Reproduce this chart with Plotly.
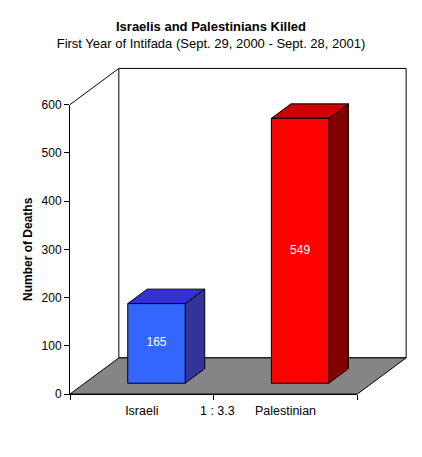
import plotly.graph_objects as go

categories = ["Israeli", "Palestinian"]
deaths = [165, 549]
front_colors = ["#3366FF", "#FF0000"]
top_colors = ["#3333CC", "#CC0000"]
side_colors = ["#333399", "#800000"]
y_ticks = [0, 100, 200, 300, 400, 500, 600]

# fake 3D box, in axis units
DEPTH_X = 0.34      # depth along the category axis
DEPTH_Y = 75        # depth along the value axis
Y_MAX = 600
BAR_HALF = 0.2
BAR_FRONT = 0.3     # bars sit between 30% and 70% of the depth
BAR_BACK = 0.7
PAD_X = 0.02
PAD_Y = (4, 5)

# the page body has an 8px margin, so the figure is made that much smaller
W, H, BODY = 422, 457, 8

n = len(categories)


def poly(xs, ys, fill, line_color="black"):
    return go.Scatter(
        x=xs + xs[:1], y=ys + ys[:1], mode="lines", fill="toself",
        fillcolor=fill, line=dict(color=line_color, width=1),
        hoverinfo="skip", showlegend=False,
    )


fig = go.Figure()

# back wall
fig.add_trace(poly([DEPTH_X, n + DEPTH_X, n + DEPTH_X, DEPTH_X],
                   [DEPTH_Y, DEPTH_Y, Y_MAX + DEPTH_Y, Y_MAX + DEPTH_Y], "white"))
# left wall top edge
fig.add_trace(go.Scatter(x=[0, DEPTH_X], y=[Y_MAX, Y_MAX + DEPTH_Y], mode="lines",
                         line=dict(color="black", width=1), hoverinfo="skip", showlegend=False))
# floor
fig.add_trace(poly([0, n, n + DEPTH_X, DEPTH_X], [0, 0, DEPTH_Y, DEPTH_Y], "#858585"))

ox, oy = BAR_FRONT * DEPTH_X, BAR_FRONT * DEPTH_Y
bx, by = (BAR_BACK - BAR_FRONT) * DEPTH_X, (BAR_BACK - BAR_FRONT) * DEPTH_Y
label_x, label_y = [], []
for i, v in enumerate(deaths):
    x0 = i + 0.5 - BAR_HALF + ox
    x1 = i + 0.5 + BAR_HALF + ox
    fig.add_trace(poly([x1, x1 + bx, x1 + bx, x1], [oy, oy + by, v + oy + by, v + oy], side_colors[i]))
    fig.add_trace(poly([x0, x1, x1 + bx, x0 + bx], [v + oy, v + oy, v + oy + by, v + oy + by], top_colors[i]))
    fig.add_trace(poly([x0, x1, x1, x0], [oy, oy, v + oy, v + oy], front_colors[i]))
    label_x.append(i + 0.5 + ox)
    label_y.append(oy + v / 2)

fig.add_trace(go.Scatter(x=label_x, y=label_y, mode="text", text=[str(v) for v in deaths],
                         textfont=dict(color="white", size=12), cliponaxis=False,
                         hoverinfo="skip", showlegend=False))

y_lo, y_hi = -PAD_Y[0], Y_MAX + DEPTH_Y + PAD_Y[1]
x_hi = n + DEPTH_X + PAD_X

fig.add_annotation(x=1, y=0, xref="x2", yref="y2", text=f"1 : {deaths[1] / deaths[0]:.1f}",
                   showarrow=False, yanchor="middle", xshift=4, yshift=-17,
                   font=dict(size=12.5, color="black"))

fig.update_layout(
    width=W - BODY, height=H - BODY,
    margin=dict(l=70 - BODY, r=13, t=66 - BODY, b=61),
    paper_bgcolor="white", plot_bgcolor="rgba(0,0,0,0)",
    font=dict(family="Liberation Sans, Arial, sans-serif", size=12, color="black"),
    title=dict(
        text="<b>Israelis and Palestinians Killed</b><br>"
             "First Year of Intifada (Sept. 29, 2000 - Sept. 28, 2001)",
        x=(211 - BODY) / (W - BODY), xanchor="center",
        y=1 - 23 / (H - BODY), yanchor="top",
        font=dict(size=13),
    ),
    xaxis=dict(range=[0, x_hi], visible=False),
    yaxis=dict(range=[y_lo, y_hi], visible=False),
    xaxis2=dict(
        domain=[0, n / x_hi], range=[0, n], anchor="y2",
        showline=True, linecolor="black", linewidth=1,
        tickvals=[i + 0.5 for i in range(n)], ticktext=categories, ticks="",
        ticklabelstandoff=5, tickfont=dict(size=12.5),
        minor=dict(tickvals=list(range(n + 1)), ticks="outside", ticklen=5, tickcolor="black"),
        showgrid=False, zeroline=False,
    ),
    yaxis2=dict(
        domain=[-y_lo / (y_hi - y_lo), (Y_MAX - y_lo) / (y_hi - y_lo)],
        range=[0, Y_MAX], anchor="x2",
        showline=True, linecolor="black", linewidth=1,
        tickvals=y_ticks, ticks="outside", ticklen=5, tickcolor="black",
        title=dict(text="<b>Number of Deaths</b>", standoff=6, font=dict(size=12)),
        showgrid=False, zeroline=False,
    ),
)

fig.write_html("out.html")
